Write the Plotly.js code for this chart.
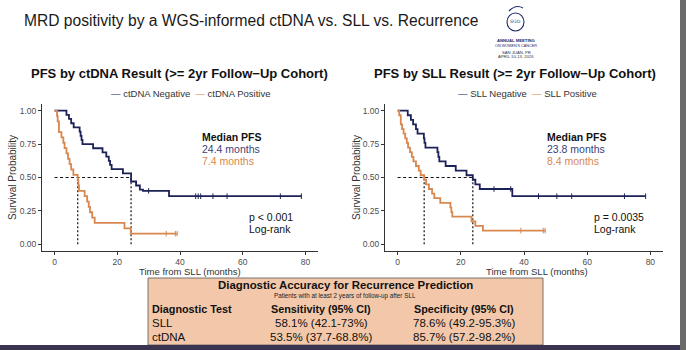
<!DOCTYPE html>
<html><head><meta charset="utf-8">
<script src="https://cdn.plot.ly/plotly-3.0.1.min.js"></script>
<style>html,body{margin:0;padding:0;background:#fff;}#chart{width:686px;height:350px;}</style>
</head><body><div id="chart"></div>
<script>
// ---------- data ----------
const mainTitle = "MRD positivity by a WGS-informed ctDNA vs. SLL vs. Recurrence";
const panelTitles = ["PFS by ctDNA Result (>= 2yr Follow\u2212Up Cohort)", "PFS by SLL Result (>= 2yr Follow\u2212Up Cohort)"];
const groupNames = [["ctDNA Negative", "ctDNA Positive"], ["SLL Negative", "SLL Positive"]];

// ctDNA Negative KM steps
const ctNegT = [0, 3.8, 4.6, 5.3, 6.1, 8.0, 8.3, 8.6, 8.9, 12.3, 15.3, 16.5, 17.3, 17.7, 18.2, 21.8, 24.4, 26.0, 27.2, 28.2, 36.5, 78.7];
const ctNegS = [1.0, 0.969, 0.938, 0.906, 0.875, 0.844, 0.812, 0.781, 0.75, 0.719, 0.688, 0.656, 0.625, 0.594, 0.562, 0.531, 0.47, 0.44, 0.41, 0.40, 0.36, 0.36];
const ctNegCens = [30.0, 45.0, 45.8, 46.6, 50.5, 55.0, 72.0, 78.7];
// ctDNA Positive KM steps
const ctPosT = [0, 0.8, 1.0, 1.4, 2.2, 2.8, 3.2, 3.8, 4.3, 4.8, 5.3, 6.0, 7.4, 7.6, 7.8, 9.6, 10.4, 10.9, 11.3, 12.0, 12.8, 22.3, 24.3, 39.1];
const ctPosS = [1.0, 0.96, 0.92, 0.84, 0.80, 0.76, 0.72, 0.68, 0.64, 0.60, 0.56, 0.52, 0.48, 0.44, 0.40, 0.36, 0.32, 0.28, 0.24, 0.20, 0.16, 0.12, 0.08, 0.08];
const ctPosCens = [35.6, 38.5, 39.1];
// SLL Negative KM steps
const sllNegT = [0, 3.2, 4.2, 4.9, 5.8, 6.3, 8.3, 8.5, 8.8, 12.6, 12.9, 13.2, 15.2, 18.4, 21.8, 23.8, 24.6, 26.0, 36.3, 78.5];
const sllNegS = [1.0, 0.966, 0.931, 0.897, 0.862, 0.828, 0.793, 0.759, 0.724, 0.690, 0.655, 0.621, 0.586, 0.552, 0.517, 0.483, 0.448, 0.414, 0.36, 0.36];
const sllNegCens = [30.5, 35.8, 44.6, 50.4, 55.1, 71.8, 78.5];
// SLL Positive KM steps
const sllPosT = [0, 0.5, 1.0, 1.4, 1.9, 2.4, 2.9, 3.3, 3.9, 4.5, 5.0, 5.8, 6.7, 7.3, 8.4, 9.0, 9.9, 10.9, 11.6, 13.5, 16.7, 17.0, 17.3, 23.4, 24.6, 27.0, 46.7];
const sllPosS = [1.0, 0.966, 0.897, 0.862, 0.828, 0.793, 0.759, 0.724, 0.690, 0.655, 0.621, 0.586, 0.552, 0.517, 0.483, 0.448, 0.414, 0.379, 0.345, 0.310, 0.276, 0.241, 0.207, 0.172, 0.138, 0.103, 0.103];
const sllPosCens = [39.0, 46.1, 46.7];

const medians = [[24.4, 7.4], [23.8, 8.4]];
const medianLabels = [["24.4 months", "7.4 months"], ["23.8 months", "8.4 months"]];
const pValues = ["p < 0.001", "p = 0.0035"];

const yTicks = [0, 0.25, 0.5, 0.75, 1.0];
const xTicks = [0, 20, 40, 60, 80];

// table
const tableTitle = "Diagnostic Accuracy for Recurrence Prediction";
const tableSub = "Patients with at least 2 years of follow-up after SLL";
const tableHeader = ["Diagnostic Test", "Sensitivity (95% CI)", "Specificity (95% CI)"];
const tableTests = ["SLL", "ctDNA"];
const tableSens = ["58.1% (42.1-73%)", "53.5% (37.7-68.8%)"];
const tableSpec = ["78.6% (49.2-95.3%)", "85.7% (57.2-98.2%)"];

// ---------- styles ----------
const W = 686, H = 350;
const NAVY = "#1c2258", ORANGE = "#d8874f";
const NAVYTXT = "#3a3f7a", ORANGETXT = "#d8874f";
const FS = "Liberation Sans, Arial, sans-serif";
const px = x => x / W, py = y => 1 - y / H;

const curves = [
  [[ctNegT, ctNegS, ctNegCens], [ctPosT, ctPosS, ctPosCens]],
  [[sllNegT, sllNegS, sllNegCens], [sllPosT, sllPosS, sllPosCens]]
];
const colors = [NAVY, ORANGE];
function survAt(t, T, S) { let s = S[0]; for (let i = 0; i < T.length; i++) { if (T[i] <= t) s = S[i]; } return s; }

const traces = [];
curves.forEach((panel, p) => {
  const xa = p === 0 ? "x" : "x2", ya = p === 0 ? "y" : "y2";
  const mMax = Math.max(...medians[p]);
  traces.push({x: [0, mMax], y: [0.5, 0.5], xaxis: xa, yaxis: ya, mode: "lines", line: {color: "#111", width: 1.2, dash: "3px,2.5px"}, hoverinfo: "skip"});
  medians[p].forEach(m => traces.push({x: [m, m], y: [0, 0.5], xaxis: xa, yaxis: ya, mode: "lines", line: {color: "#111", width: 1.2, dash: "2px,2px"}, hoverinfo: "skip"}));
  panel.forEach((c, g) => {
    traces.push({x: c[0], y: c[1], xaxis: xa, yaxis: ya, mode: "lines", line: {shape: "hv", color: colors[g], width: 1.8}, name: groupNames[p][g]});
    traces.push({x: c[2], y: c[2].map(t => survAt(t, c[0], c[1])), xaxis: xa, yaxis: ya, mode: "markers",
      marker: {symbol: "line-ns", size: 4, line: {color: colors[g], width: 1}, color: colors[g]}, hoverinfo: "skip"});
  });
});

function xaxisDef(domain) {
  return {domain: domain, range: [-4, 84], tickvals: xTicks, ticktext: xTicks.map(String), showline: true, linecolor: "#333", linewidth: 1,
    ticks: "outside", ticklen: 2.5, tickcolor: "#333", tickfont: {family: FS, size: 8.5, color: "#4d4d4d"}, showgrid: false, zeroline: false};
}
function yaxisDef(anchor) {
  return {domain: [py(251), py(104)], range: [-0.05, 1.05], anchor: anchor, tickvals: yTicks, ticktext: yTicks.map(v => v.toFixed(2)), showline: true, linecolor: "#333", linewidth: 1,
    ticks: "outside", ticklen: 3, tickcolor: "#333", tickfont: {family: FS, size: 8.5, color: "#4d4d4d"}, showgrid: false, zeroline: false};
}

const ann = [];
function A(text, x, y, o) { ann.push(Object.assign({text: text, x: px(x), y: py(y), xref: "paper", yref: "paper", showarrow: false, xanchor: "center", yanchor: "middle",
  font: {family: FS, size: 10, color: "#222"}}, o || {})); }

A(mainTitle, 22, 20, {xanchor: "left", font: {family: FS, size: 15.6, color: "#1a1a1a"}});
// logo text
A("SGO", 515, 22, {font: {family: "DejaVu Serif, serif", size: 4.5, color: "#1c2a6b"}});
A("<b>ANNUAL MEETING</b>", 516, 41, {font: {family: FS, size: 4.2, color: "#1c2a6b"}});
A("ON WOMEN'S CANCER", 516, 45.5, {font: {family: FS, size: 3.8, color: "#1c2a6b"}});
A("SAN JUAN, PR", 516, 52, {font: {family: FS, size: 4.2, color: "#333"}});
A("APRIL 10-13, 2026", 516, 57, {font: {family: FS, size: 4.2, color: "#333"}});

const panelCx = [179, 515];
const legendCx = [190, 527];
const medX = [200, 545];
const pX = [247, 592];
const xTitleCx = [190, 537];
panelTitles.forEach((t, p) => {
  A("<b>" + t + "</b>", panelCx[p], 73, {font: {family: FS, size: 13, color: "#111"}});
  A('<span style="color:' + NAVY + '">\u2014</span> ' + groupNames[p][0] + '  <span style="color:' + ORANGE + '">\u2014</span> ' + groupNames[p][1], legendCx[p], 93,
    {font: {family: FS, size: 9.5, color: "#333"}});
  A("<b>Median PFS</b>", medX[p], 137, {xanchor: "left", font: {family: FS, size: 10.5, color: "#111"}});
  A(medianLabels[p][0], medX[p], 149, {xanchor: "left", font: {family: FS, size: 10.5, color: NAVYTXT}});
  A(medianLabels[p][1], medX[p], 160.5, {xanchor: "left", font: {family: FS, size: 10.5, color: ORANGETXT}});
  A(pValues[p], pX[p], 217, {xanchor: "left", font: {family: FS, size: 10.5, color: "#111"}});
  A("Log-rank", pX[p], 229, {xanchor: "left", font: {family: FS, size: 10.5, color: "#111"}});
  A("Time from SLL (months)", xTitleCx[p], 271, {font: {family: FS, size: 9.5, color: "#333"}});
});
A("Survival Probability", 12, 178, {textangle: -90, font: {family: FS, size: 10, color: "#333"}});
A("Survival Probability", 356, 178, {textangle: -90, font: {family: FS, size: 10, color: "#333"}});

// table text
A("<b>" + tableTitle + "</b>", 345, 285, {font: {family: FS, size: 11.4, color: "#111"}});
A(tableSub, 345, 296, {font: {family: FS, size: 6.3, color: "#222"}});
const colCx = [150, 321, 464];
const rowY = [309, 323, 337];
tableHeader.forEach((h, i) => A("<b>" + h + "</b>", colCx[i], rowY[0], i === 0 ? {xanchor: "left", font: {family: FS, size: 10.8, color: "#111"}} : {font: {family: FS, size: 10.8, color: "#111"}}));
tableTests.forEach((t, r) => {
  A(t, colCx[0], rowY[r + 1], {xanchor: "left", font: {family: FS, size: 11.5, color: "#111"}});
  A(tableSens[r], colCx[1], rowY[r + 1], {font: {family: FS, size: 11.5, color: "#111"}});
  A(tableSpec[r], colCx[2], rowY[r + 1], {font: {family: FS, size: 11.5, color: "#111"}});
});

const shapes = [
  {type: "rect", xref: "paper", yref: "paper", x0: px(148), x1: px(543), y0: py(345), y1: py(278), fillcolor: "#f3c8aa", line: {color: "#555", width: 0.8}, layer: "below"},
  {type: "rect", xref: "paper", yref: "paper", x0: 0, x1: 1, y0: 0, y1: py(345), fillcolor: "#3b3450", line: {width: 0}},
  {type: "rect", xref: "paper", yref: "paper", x0: px(680), x1: 1, y0: 0, y1: 1, fillcolor: "#6b6b6b", line: {width: 0}},
  {type: "circle", xref: "paper", yref: "paper", x0: px(507), x1: px(524), y0: py(31), y1: py(13), line: {color: "#1c2a6b", width: 1.1}},
  {type: "path", xref: "paper", yref: "paper", path: "M " + px(509) + " " + py(11) + " Q " + px(516) + " " + py(4) + " " + px(523) + " " + py(8), line: {color: "#1c2a6b", width: 1.1}}
];

const layout = {
  width: W, height: H, margin: {l: 0, r: 0, t: 0, b: 0}, paper_bgcolor: "#ffffff", plot_bgcolor: "rgba(0,0,0,0)",
  showlegend: false,
  xaxis: Object.assign(xaxisDef([px(42), px(318)]), {anchor: "y"}), yaxis: yaxisDef("x"),
  xaxis2: Object.assign(xaxisDef([px(385), px(663)]), {anchor: "y2"}), yaxis2: yaxisDef("x2"),
  annotations: ann, shapes: shapes
};
Plotly.newPlot("chart", traces, layout, {displayModeBar: false, staticPlot: true});
</script></body></html>
